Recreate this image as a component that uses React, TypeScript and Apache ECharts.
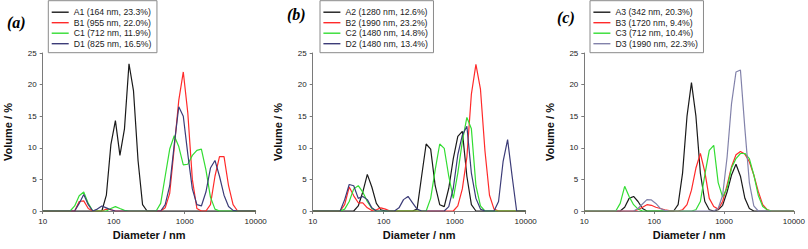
import React, { useEffect, useRef } from 'react';
import * as echarts from 'echarts';

// Size bins (nm)
const DIAMETERS = [10.10, 11.70, 13.54, 15.69, 18.17, 21.04, 24.36, 28.21, 32.67, 37.84,
  43.82, 50.75, 58.77, 68.06, 78.82, 91.28, 105.7, 122.4, 141.8, 164.2,
  190.1, 220.2, 255.0, 295.3, 342.0, 396.1, 458.7, 531.2, 615.1, 712.4,
  825.0, 955.4, 1106, 1281, 1484, 1718, 1990, 2305, 2669, 3091,
  3580, 4145, 4801, 5560, 6439, 7456, 8635, 10000];

const X_TICKS = [10, 100, 1000, 10000];
const Y_TICKS = [0, 5, 10, 15, 20, 25];

// Panel (a)
const A1 = [0, 0, 0, 0, 0, 0, 0, 0, 0, 0,
  0, 0, 0, 0, 2.5, 10.5, 14.3, 8.8, 13.0, 23.3,
  19.0, 8.0, 1.0, 0, 0, 0, 0, 0, 0, 0,
  0, 0, 0, 0, 0, 0, 0, 0, 0, 0,
  0, 0, 0, 0, 0, 0, 0, 0];
const B1 = [0, 0, 0, 0, 0, 0, 0, 0, 1.5, 1.6,
  0.4, 0, 0, 0, 0.3, 0.2, 0, 0, 0, 0,
  0, 0, 0, 0, 0, 0, 0, 0.5, 2.8, 10.0,
  17.5, 22.0, 15.5, 5.0, 0.4, 0, 0, 1.0, 5.5, 8.6,
  8.6, 4.0, 1.0, 0, 0, 0, 0, 0];
const C1 = [0, 0, 0, 0, 0, 0, 0, 0.8, 2.4, 3.0,
  1.2, 0, 0, 0, 0, 0.4, 0.7, 0.4, 0.1, 0,
  0, 0, 0, 0, 0, 0, 1.2, 5.5, 9.8, 11.9,
  10.2, 7.3, 7.4, 8.8, 9.6, 9.8, 6.5, 2.2, 0.3, 0,
  0, 0, 0, 0, 0, 0, 0, 0];
const D1 = [0, 0, 0, 0, 0, 0, 0, 0, 1.2, 2.6,
  1.0, 0, 0.3, 0.8, 0.5, 0.2, 0, 0, 0, 0,
  0, 0, 0, 0, 0, 0, 0, 1.0, 4.0, 10.5,
  16.5, 15.0, 9.0, 3.5, 1.0, 0.8, 3.0, 6.8, 8.0, 5.5,
  2.5, 0.7, 0.1, 0, 0, 0, 0, 0];

// Panel (b)
const A2 = [0, 0, 0, 0, 0, 0, 0, 0, 0, 0,
  0.8, 3.0, 5.8, 3.8, 1.2, 0.2, 0, 0, 0, 0,
  0, 0, 0, 0.3, 5.5, 10.6, 9.8, 4.0, 1.0, 0.7,
  3.6, 8.3, 11.8, 12.6, 5.5, 1.0, 0, 0, 0, 0,
  0, 0, 0, 0, 0, 0, 0, 0];
const B2 = [0, 0, 0, 0, 0, 0, 0, 1.0, 3.8, 2.4,
  1.3, 1.3, 0.5, 0.1, 0.2, 0.5, 0.3, 0, 0, 0,
  0, 0, 0, 0, 0, 0, 0, 0, 0, 0,
  0, 0, 0.8, 3.5, 8.5, 18.5, 23.2, 19.3, 9.5, 2.5,
  0.3, 0, 0, 0, 0, 0, 0, 0];
const C2 = [0, 0, 0, 0, 0, 0, 0, 0.3, 1.5, 3.5,
  4.0, 3.0, 1.5, 0.4, 0, 0, 0, 0, 0, 0,
  0, 0, 0, 0, 0, 0, 2.0, 6.5, 10.6, 9.9,
  5.5, 2.0, 6.0, 11.0, 14.8, 13.0, 4.0, 0.8, 0, 0,
  0, 0, 0, 0, 0, 0, 0, 0];
const D2 = [0, 0, 0, 0, 0, 0, 0, 1.8, 4.2, 4.0,
  2.0, 2.3, 1.8, 0.5, 0, 0, 0, 0, 0, 0.5,
  1.8, 2.3, 1.3, 0.3, 0, 0, 0, 0, 0, 0,
  0.7, 3.6, 8.9, 12.0, 13.4, 6.0, 2.0, 0.3, 0, 0,
  0, 1.5, 7.8, 11.3, 5.5, 0, 0, 0];

// Panel (c)
const A3 = [0, 0, 0, 0, 0, 0, 0, 0, 0, 0.6,
  2.0, 2.3, 1.5, 0.4, 0, 0, 0, 0, 0, 0,
  0, 1.0, 6.0, 15.0, 20.3, 15.0, 6.0, 1.5, 0.2, 0,
  0.2, 0.9, 3.0, 5.7, 7.4, 5.5, 2.0, 0.4, 0, 0,
  0, 0, 0, 0, 0, 0, 0, 0];
const B3 = [0, 0, 0, 0, 0, 0, 0, 0, 0, 0,
  0, 0, 0.2, 0.6, 1.0, 0.9, 0.6, 0.4, 0.2, 0.05,
  0, 0, 0.2, 1.0, 3.3, 6.8, 9.1, 6.2, 2.0, 0.7,
  0.3, 1.5, 4.1, 7.0, 8.9, 9.4, 9.0, 7.8, 5.7, 3.1,
  1.0, 0.2, 0, 0, 0, 0, 0, 0];
const C3 = [0, 0, 0, 0, 0, 0, 0, 0, 1.2, 3.9,
  2.3, 1.0, 0.3, 0, 0, 0, 0, 0, 0, 0,
  0, 0, 0, 0, 0, 0.2, 1.5, 5.7, 9.6, 10.4,
  4.5, 2.2, 3.6, 6.8, 8.3, 9.1, 9.1, 8.3, 5.7, 2.5,
  0.7, 0.2, 0, 0, 0, 0, 0, 0];
const D3 = [0, 0, 0, 0, 0, 0, 0, 0, 0, 0,
  0, 0, 0.4, 1.1, 1.8, 1.75, 1.2, 0.4, 0.1, 0,
  0, 0, 0, 0, 0, 0, 0, 0, 0, 0,
  0.4, 2.5, 8.5, 17.0, 22.0, 22.3, 13.0, 4.5, 0.8, 0,
  0, 0, 0, 0, 0, 0, 0, 0];

const NAMES_A = ['A1 (164 nm, 23.3%)', 'B1 (955 nm, 22.0%)', 'C1 (712 nm, 11.9%)', 'D1 (825 nm, 16.5%)'];
const NAMES_B = ['A2 (1280 nm, 12.6%)', 'B2 (1990 nm, 23.2%)', 'C2 (1480 nm, 14.8%)', 'D2 (1480 nm, 13.4%)'];
const NAMES_C = ['A3 (342 nm, 20.3%)', 'B3 (1720 nm, 9.4%)', 'C3 (712 nm, 10.4%)', 'D3 (1990 nm, 22.3%)'];
const PANEL_LABELS = ['(a)', '(b)', '(c)'];

const COLORS_AB = ['#1a1a1a', '#ff2a2a', '#33dd33', '#3c3c78'];
const COLORS_C = ['#1a1a1a', '#ff2a2a', '#33dd33', '#8282aa'];

const PANELS = [
  { names: NAMES_A, data: [A1, B1, C1, D1], colors: COLORS_AB, left: 42.7, legendLeft: 48.3, labelX: 7, labelY: 14 },
  { names: NAMES_B, data: [A2, B2, C2, D2], colors: COLORS_AB, left: 312.7, legendLeft: 320, labelX: 287, labelY: 6 },
  { names: NAMES_C, data: [A3, B3, C3, D3], colors: COLORS_C, left: 584.3, legendLeft: 590, labelX: 557, labelY: 9 },
];

const FONT = 'Liberation Sans, Arial, sans-serif';
const AXIS_COLOR = '#7a7a7a';

function buildOption() {
  const grid = PANELS.map((p) => ({ left: p.left, top: 53, width: 213, height: 158 }));
  const xAxis = PANELS.map((_, i) => ({
    type: 'log',
    logBase: 10,
    gridIndex: i,
    min: X_TICKS[0],
    max: X_TICKS[X_TICKS.length - 1],
    axisLine: { show: true, lineStyle: { color: AXIS_COLOR, width: 1 } },
    axisTick: { show: true, length: 3, lineStyle: { color: AXIS_COLOR } },
    axisLabel: { fontSize: 8, color: '#222', margin: 6, fontFamily: FONT, formatter: (v: number) => String(Math.round(v)) },
    splitLine: { show: false },
    name: 'Diameter / nm',
    nameLocation: 'middle',
    nameGap: 18,
    nameTextStyle: { fontWeight: 'bold', fontSize: 11, color: '#111', fontFamily: FONT },
  }));
  const yAxis = PANELS.map((_, i) => ({
    type: 'value',
    gridIndex: i,
    min: Y_TICKS[0],
    max: Y_TICKS[Y_TICKS.length - 1],
    interval: 5,
    axisLine: { show: true, lineStyle: { color: AXIS_COLOR, width: 1 } },
    axisTick: { show: true, length: 3, lineStyle: { color: AXIS_COLOR } },
    axisLabel: { fontSize: 8, color: '#222', margin: 6, fontFamily: FONT },
    splitLine: { show: false },
    name: 'Volume / %',
    nameLocation: 'middle',
    nameRotate: 90,
    nameGap: 29,
    nameTextStyle: { fontWeight: 'bold', fontSize: 11, color: '#111', fontFamily: FONT },
  }));
  const series: any[] = [];
  PANELS.forEach((p, pi) => {
    p.data.forEach((vals, si) => {
      series.push({
        type: 'line',
        name: p.names[si],
        xAxisIndex: pi,
        yAxisIndex: pi,
        data: DIAMETERS.map((d, k) => [d, vals[k]]),
        symbol: 'none',
        showSymbol: false,
        lineStyle: { color: p.colors[si], width: 1.2 },
        itemStyle: { color: p.colors[si] },
        z: 2 + si,
      });
    });
  });
  const legend = PANELS.map((p) => ({
    orient: 'vertical',
    left: p.legendLeft,
    top: 0.7,
    padding: [6.5, 5.5, 4, 3.4],
    icon: 'rect',
    itemWidth: 17,
    itemHeight: 1.4,
    itemGap: 0.5,
    borderColor: '#8a8a8a',
    borderWidth: 1,
    backgroundColor: '#fff',
    textStyle: { fontSize: 8.7, lineHeight: 10, color: '#222', fontFamily: FONT },
    data: p.names.map((n, k) => ({ name: n, icon: 'rect', itemStyle: { color: p.colors[k] } })),
  }));
  const graphic = PANELS.map((p, i) => ({
    type: 'text',
    left: p.labelX,
    top: p.labelY,
    style: {
      text: PANEL_LABELS[i],
      fontFamily: 'Liberation Serif, Times New Roman, serif',
      fontStyle: 'italic',
      fontWeight: 'bold',
      fontSize: 16,
      fill: '#000',
    },
  }));
  return { animation: false, backgroundColor: '#fff', grid, xAxis, yAxis, series, legend, graphic };
}

export default function App() {
  const ref = useRef<HTMLDivElement>(null);
  useEffect(() => {
    const chart = echarts.init(ref.current!, null, { renderer: 'svg' });
    chart.setOption(buildOption() as any);
    return () => chart.dispose();
  }, []);
  return <div ref={ref} style={{ position: 'fixed', left: 0, top: 0, width: 808, height: 249 }} />;
}
